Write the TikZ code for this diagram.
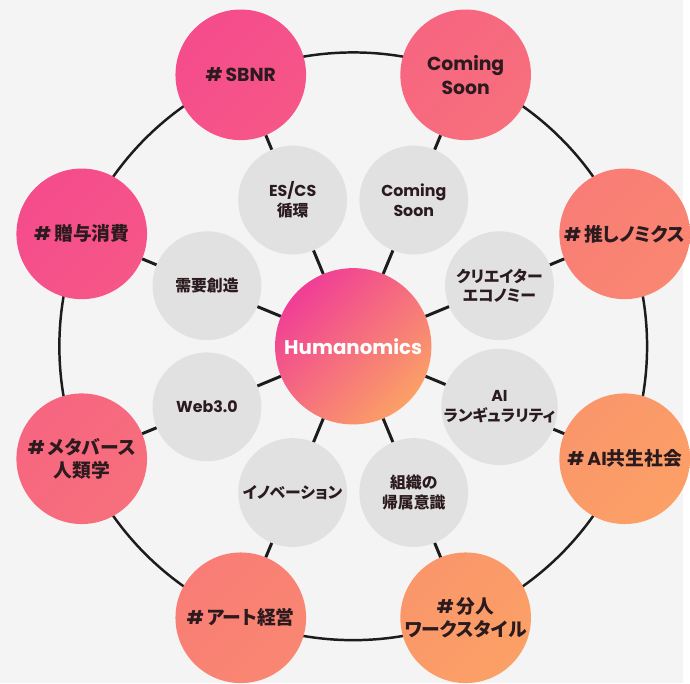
\documentclass[tikz,border=0pt]{standalone}
\usepackage{fontspec}
\usepackage{xcolor}
\setmainfont{Poppins}
\newfontfamily\jp[RawFeature=+palt]{Noto Sans CJK JP}
\definecolor{hmpink}{HTML}{F54C8C}
\definecolor{hmmagenta}{HTML}{F03E96}
\definecolor{hmorange}{HTML}{FBA066}
\definecolor{hmbg}{HTML}{F4F4F4}
\definecolor{hmgray}{HTML}{E1E1E1}
\definecolor{hmtext}{HTML}{2B1A1E}
\definecolor{hmline}{HTML}{1C1C1C}

\begin{document}
\begin{tikzpicture}[
    x=1pt,y=1pt,
    hub/.style={circle,minimum size=158pt,inner sep=0pt,left color=hmmagenta,right color=hmorange,shading angle=45,text=white,font=\fontsize{20}{24}\selectfont\bfseries},
    topic/.style 2 args={circle,minimum size=132pt,inner sep=0pt,align=center,left color=hmorange!#1!hmpink,right color=hmorange!#2!hmpink,shading angle=45,text=hmtext,font=\fontsize{19}{24}\selectfont\bfseries},
    sub/.style={circle,fill=hmgray,minimum size=110pt,inner sep=0pt,align=center,text=hmtext,font=\fontsize{16}{20}\selectfont\bfseries},
    spoke/.style={draw=hmline,line width=3pt},
    ring/.style={draw=hmline,line width=2.5pt}
  ]
    \fill[hmbg] (-357,-340) rectangle (333,350);
    \draw[ring] (0,0) circle[radius=297];

    \node[hub] (hub) at (0,0) {Humanomics};

    % outer ring
    \node[topic={0}{12}] (sbnr) at (112.5:297) {\#\,SBNR};
    \node[topic={30}{42}] (soonout) at (67.5:297) {Coming\\Soon};
    \node[topic={58}{70}] (oshi) at (22.5:297) {\#\,{\jp 推しノミクス}};
    \node[topic={88}{100}] (aikyosei) at (-22.5:297) {\#\,AI{\jp 共生社会}};
    \node[topic={88}{100}] (bunjin) at (-67.5:297) {\#\,{\jp 分人}\\{\jp ワークスタイル}};
    \node[topic={58}{70}] (art) at (-112.5:297) {\#\,{\jp アート経営}};
    \node[topic={30}{42}] (meta) at (-157.5:297) {\#\,{\jp メタバース}\\{\jp 人類学}};
    \node[topic={0}{12}] (zoyo) at (157.5:297) {\#\,{\jp 贈与消費}};

    % inner ring
    \node[sub] (escs) at (112.5:160) {ES/CS\\{\jp 循環}};
    \node[sub] (soonin) at (67.5:160) {Coming\\Soon};
    \node[sub] (creator) at (22.5:160) {{\jp クリエイター}\\{\jp エコノミー}};
    \node[sub] (aising) at (-22.5:160) {AI\\{\jp ランギュラリティ}};
    \node[sub] (soshiki) at (-67.5:160) {{\jp 組織の}\\{\jp 帰属意識}};
    \node[sub] (innov) at (-112.5:160) {{\jp イノベーション}};
    \node[sub] (web) at (-157.5:160) {Web3.0};
    \node[sub] (juyo) at (157.5:160) {{\jp 需要創造}};

    \draw[spoke] (hub) -- (escs);
    \draw[spoke] (hub) -- (soonin);
    \draw[spoke] (hub) -- (creator);
    \draw[spoke] (hub) -- (aising);
    \draw[spoke] (hub) -- (soshiki);
    \draw[spoke] (hub) -- (innov);
    \draw[spoke] (hub) -- (web);
    \draw[spoke] (hub) -- (juyo);
    \draw[spoke] (escs) -- (sbnr);
    \draw[spoke] (soonin) -- (soonout);
    \draw[spoke] (creator) -- (oshi);
    \draw[spoke] (aising) -- (aikyosei);
    \draw[spoke] (soshiki) -- (bunjin);
    \draw[spoke] (innov) -- (art);
    \draw[spoke] (web) -- (meta);
    \draw[spoke] (juyo) -- (zoyo);
  \end{tikzpicture}
\end{document}
